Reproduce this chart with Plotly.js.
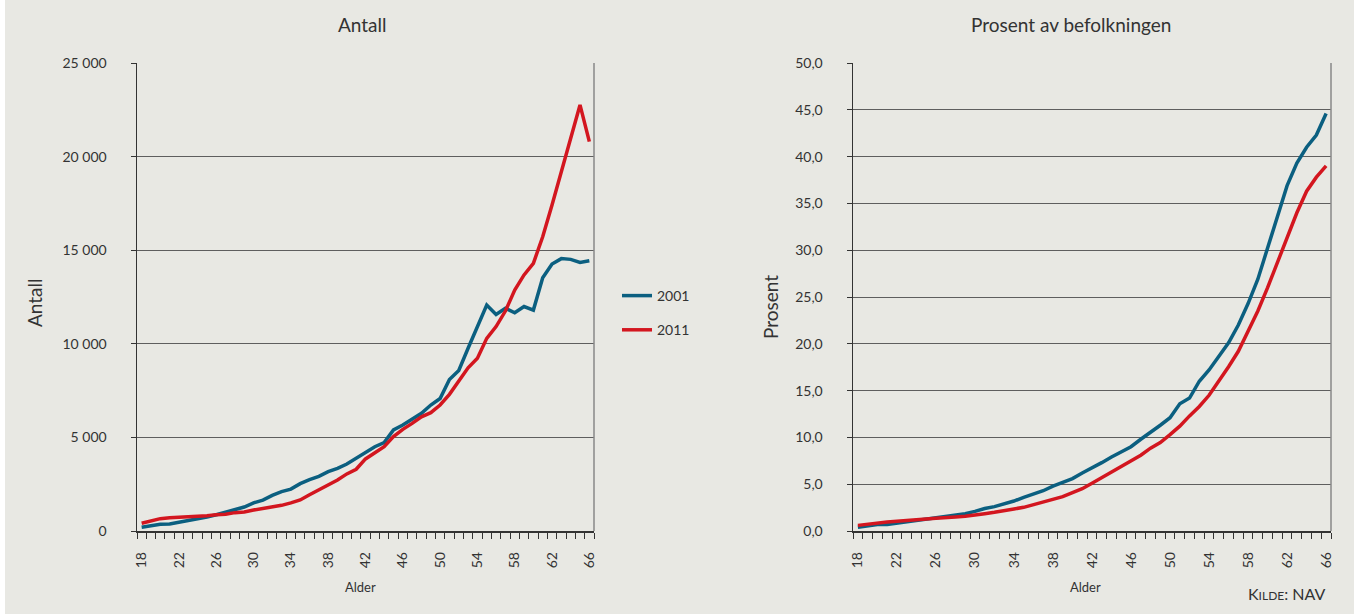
<!DOCTYPE html>
<html>
<head>
<meta charset="utf-8">
<script src="https://cdn.plot.ly/plotly-3.0.1.min.js"></script>
<style>
  html, body { margin: 0; padding: 0; background: #ffffff; }
  #chart { position: absolute; left: 5px; top: 0; width: 1349px; height: 614px; }
</style>
</head>
<body>
<div id="chart"></div>
<script>
// ---- data ----
const ages = [18,19,20,21,22,23,24,25,26,27,28,29,30,31,32,33,34,35,36,37,38,39,40,41,42,
              43,44,45,46,47,48,49,50,51,52,53,54,55,56,57,58,59,60,61,62,63,64,65,66];
const ageTickLabels = [18,22,26,30,34,38,42,46,50,54,58,62,66];

const antall2001 = [200,285,360,375,465,555,640,750,870,1000,1120,1280,1500,1650,1900,2100,2240,2530,2740,2920,
                    3170,3350,3580,3880,4180,4500,4720,5400,5660,5970,6290,6730,7080,8090,8580,9760,10900,12070,
                    11570,11900,11660,11990,11800,13530,14260,14550,14510,14350,14440];
const antall2011 = [410,520,660,710,730,765,800,820,870,890,980,1015,1120,1190,1300,1370,1500,1660,1940,2190,
                    2420,2720,3050,3300,3850,4170,4500,5040,5430,5750,6100,6320,6730,7300,8000,8720,9230,10290,
                    10920,11750,12870,13680,14300,15720,17410,19190,20890,22760,20800];

const prosent2001 = [0.40,0.55,0.70,0.70,0.85,1.00,1.10,1.25,1.40,1.55,1.70,1.85,2.10,2.40,2.60,2.90,3.20,3.60,
                     3.95,4.30,4.80,5.20,5.60,6.20,6.70,7.30,7.90,8.50,9.00,9.80,10.50,11.30,12.10,13.60,14.20,
                     16.00,17.20,18.60,20.10,22.00,24.30,26.90,30.30,33.80,36.90,39.30,41.00,42.30,44.60];
const prosent2011 = [0.60,0.75,0.89,0.96,1.03,1.14,1.21,1.28,1.35,1.39,1.50,1.57,1.75,1.85,2.00,2.14,2.35,2.53,
                     2.81,3.06,3.31,3.67,4.10,4.52,5.10,5.70,6.30,6.80,7.40,8.10,8.85,9.45,10.30,11.20,12.30,
                     13.30,14.50,16.00,17.55,19.20,21.30,23.50,26.00,28.60,31.30,34.00,36.30,37.80,39.00];

const seriesNames = ['2001', '2011'];
const titles = ['Antall', 'Prosent av befolkningen'];
const yTitles = ['Antall', 'Prosent'];
const xTitle = 'Alder';

// ---- styling ----
const BLUE = '#0b5f80';
const RED = '#d3161f';
const TXT = '#333333';
const FONT = 'Lato, "Open Sans", sans-serif';
const GRID = '#5e5e5e';

function line(color) { return { color: color, width: 3.5 }; }

const traces = [
  { x: ages, y: antall2001, name: seriesNames[0], type: 'scatter', mode: 'lines', line: line(BLUE),
    xaxis: 'x', yaxis: 'y', legendgroup: 'a' },
  { x: ages, y: antall2011, name: seriesNames[1], type: 'scatter', mode: 'lines', line: line(RED),
    xaxis: 'x', yaxis: 'y', legendgroup: 'b' },
  { x: ages, y: prosent2001, name: seriesNames[0], type: 'scatter', mode: 'lines', line: line(BLUE),
    xaxis: 'x2', yaxis: 'y2', showlegend: false },
  { x: ages, y: prosent2011, name: seriesNames[1], type: 'scatter', mode: 'lines', line: line(RED),
    xaxis: 'x2', yaxis: 'y2', showlegend: false }
];

function xAxis(domain, anchor) {
  return {
    domain: domain, anchor: anchor,
    range: [17.5, 66.5],
    tickmode: 'array', tickvals: ageTickLabels, ticktext: ageTickLabels.map(String),
    tickangle: -90, ticks: 'outside', ticklen: 0, ticklabelstandoff: 14,
    minor: { ticks: 'outside', ticklen: 6, tick0: 17.5, dtick: 1, tickcolor: '#333', tickwidth: 1, showgrid: false },
    showline: true, linecolor: '#333', linewidth: 1.5,
    showgrid: false, zeroline: false,
    tickfont: { family: FONT, size: 14, color: TXT },
    fixedrange: true
  };
}
function yAxis(domain, anchor, range, dtick, fmt) {
  return {
    domain: domain, anchor: anchor,
    range: range, dtick: dtick, tick0: 0, tickformat: fmt,
    ticks: 'outside', ticklen: 5, tickcolor: '#333', ticklabelstandoff: 21,
    showline: true, linecolor: '#333', linewidth: 1.5,
    showgrid: true, gridcolor: GRID, gridwidth: 1, zeroline: false,
    tickfont: { family: FONT, size: 14, color: TXT },
    fixedrange: true
  };
}

const W = 1349, H = 614;
const px = x => (x - 5) / W;
const py = y => (H - y) / H;

const yDom = [py(531), py(63)];

function ann(text, x, y, size, extra) {
  return Object.assign({ text: text, x: px(x), y: py(y), xref: 'paper', yref: 'paper',
    xanchor: 'center', yanchor: 'middle',
    showarrow: false, font: { family: FONT, size: size, color: TXT } }, extra || {});
}

const layout = {
  width: W, height: H,
  margin: { l: 0, r: 0, t: 0, b: 0 },
  paper_bgcolor: '#e8e8e3', plot_bgcolor: '#e8e8e3',
  separators: ', ',
  showlegend: true,
  legend: {
    x: px(617), y: py(280), xanchor: 'left', yanchor: 'top',
    bgcolor: 'rgba(0,0,0,0)', traceorder: 'grouped', tracegroupgap: 13,
    font: { family: FONT, size: 14, color: TXT }
  },
  xaxis: xAxis([px(137), px(594)], 'y'),
  yaxis: yAxis(yDom, 'x', [0, 25000], 5000, ',d'),
  xaxis2: xAxis([px(853), px(1331)], 'y2'),
  yaxis2: yAxis(yDom, 'x2', [0, 50], 5, '.1f'),
  shapes: [
    { type: 'line', xref: 'x domain', yref: 'y domain', x0: 1, x1: 1, y0: 0, y1: 1, line: { color: '#888', width: 1.5 } },
    { type: 'line', xref: 'x2 domain', yref: 'y2 domain', x0: 1, x1: 1, y0: 0, y1: 1, line: { color: '#888', width: 1.5 } }
  ],
  annotations: [
    ann(titles[0], 362, 24, 19),
    ann(titles[1], 1071, 24, 19),
    ann(yTitles[0], 34, 303, 19, { textangle: -90 }),
    ann(yTitles[1], 770, 307, 19, { textangle: -90 }),
    ann(xTitle, 360, 587, 13),
    ann(xTitle, 1085, 587, 13),
    ann('K<span style="font-size:12px">ILDE</span>: NAV', 1327, 593, 16, { xanchor: 'right' })
  ]
};

Plotly.newPlot('chart', traces, layout, { displayModeBar: false, staticPlot: true });
</script>
</body>
</html>
